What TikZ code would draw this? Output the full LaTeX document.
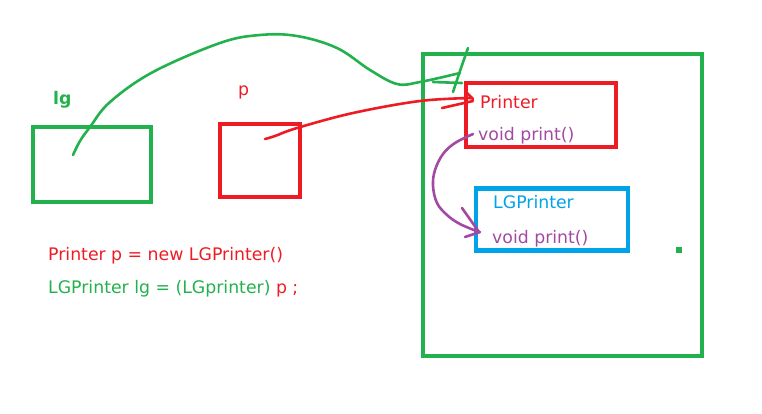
\documentclass[tikz,border=0pt]{standalone}
\usepackage{fontspec}
\setmainfont{DejaVu Sans}
\definecolor{pgreen}{HTML}{22B14C}
\definecolor{pred}{HTML}{ED1C24}
\definecolor{pblue}{HTML}{00A2E8}
\definecolor{ppurple}{HTML}{A349A4}
\begin{document}
\begin{tikzpicture}[x=1pt,y=-1pt,
  box/.style={draw,line width=4.5pt,inner sep=0pt,minimum width=#1},
  txt/.style={anchor=base west,inner sep=0pt,font=\fontsize{17.3}{20}\selectfont},
  stroke/.style={line width=2.6pt,line cap=round,line join=round}]
\useasboundingbox (0,0) rectangle (762,413);
% boxes
\node[box=118pt,minimum height=75pt,draw=pgreen] (lgbox) at (92,164.5) {};
\node[box=80pt,minimum height=73pt,draw=pred] (pbox) at (260,160.5) {};
\node[box=279pt,minimum height=302pt,draw=pgreen] (heap) at (562.5,205) {};
\node[box=150pt,minimum height=64pt,draw=pred] (printer) at (541,115) {};
\node[box=152pt,minimum height=62pt,draw=pblue] (lgprinter) at (552,219.5) {};
\fill[pgreen] (676,247) rectangle (682,253);
% labels
\node[txt,text=pgreen,font=\fontsize{17.3}{20}\selectfont\bfseries] (lglabel) at (53,104) {lg};
\node[txt,text=pred] (plabel) at (238,95) {p};
\node[txt,text=pred] (ptitle) at (480,108) {Printer};
\node[txt,text=ppurple] (pmeth) at (478,140) {void print()};
\node[txt,text=pblue] (ltitle) at (493,208) {LGPrinter};
\node[txt,text=ppurple] (lmeth) at (492,243) {void print()};
\node[txt,text=pred] (code1) at (48,260) {Printer p = new LGPrinter()};
\node[txt,text=pgreen] (code2) at (48,293) {LGPrinter lg = (LGprinter) \textcolor{pred}{p ;}};
% connectors
\coordinate (gs) at (73,155);
\coordinate (ge) at (460,73);
\draw[stroke,pgreen] plot[smooth,tension=0.6] coordinates {(gs) (80,141) (90,127) (110,102) (153,72) (220,43) (260,35) (297,36) (337,48) (370,70) (397,84) (420,82) (ge)};
\draw[stroke,pgreen] (468,48) .. controls (462,65) .. (453,92);
\draw[stroke,pgreen] (433,82) -- (462,83);
\coordinate (rs) at (265,139);
\coordinate (re) at (472,98);
\draw[stroke,pred] plot[smooth,tension=0.6] coordinates {(rs) (275,136) (297,128) (353,113) (420,101) (re)};
\draw[stroke,pred] (467,93) -- (473,99);
\draw[stroke,pred] (442,108) -- (473,101);
\coordinate (us) at (473,134);
\coordinate (ue) at (479,232);
\draw[stroke,ppurple] plot[smooth,tension=0.6] coordinates {(us) (455,143) (443,154) (435,170) (433,186) (437,203) (447,215) (460,224) (ue)};
\draw[stroke,ppurple] (462,208) -- (479,232);
\draw[stroke,ppurple] (465,237) -- (480,232);
\end{tikzpicture}
\end{document}
